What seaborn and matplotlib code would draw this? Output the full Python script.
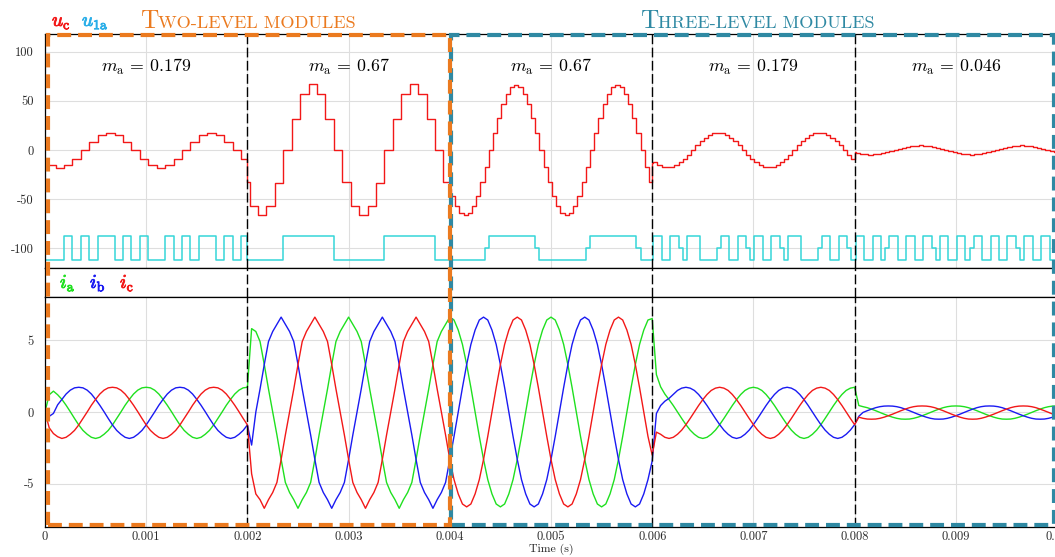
import numpy as np
import pandas as pd
import matplotlib
matplotlib.use("Agg")
import matplotlib.pyplot as plt
import matplotlib.patheffects as pe
from matplotlib.patches import Rectangle
import seaborn as sns

# ---- data ------------------------------------------------------------------
seg_edges = [0.0, 0.002, 0.004, 0.006, 0.008, 0.010]      # s
ma_labels = ["0.179", "0.67", "0.67", "0.179", "0.046"]
steps_per_ms = [12, 12, 24, 24, 24]                        # staircase update rate
title_two = "Two-level modules"
title_three = "Three-level modules"

# u_c staircase levels per segment (first and last step are partial)
uc_seg1 = [-15.6, -15.6, -18, -15.6, -9, 0, 8.4, 15, 17.6, 15, 8.4, 0, -9,
           -15.6, -18, -15.6, -9, 0, 8.4, 15, 17.6, 15, 8.4, 0, -9]
uc_seg2 = [-32.5, -57, -66, -57, -34, 0, 32, 57, 67, 57, 32, 0, -32.5,
           -57, -66, -57, -34, 0, 32, 57, 67, 57, 32, 0, -32.5]
uc_seg3 = [-40, -47, -57, -64, -66, -64, -57, -47, -33, -17, 0, 17, 33, 47, 57, 64,
           66, 64, 57, 47, 33, 17, 0, -17, -33, -47, -57, -64, -66, -64, -57, -47,
           -33, -17, 0, 17, 33, 47, 57, 64, 66, 64, 57, 47, 33, 17, 0, -17, -33]
uc_seg4 = [-12.8, -12.4, -15.2, -17, -17.6, -17, -15.2, -12.4, -8.8, -4.6, 0, 4.6,
           8.8, 12.4, 15.2, 17, 17.6, 17, 15.2, 12.4, 8.8, 4.6, 0, -4.6, -8.8,
           -12.4, -15.2, -17, -17.6, -17, -15.2, -12.4, -8.8, -4.6, 0, 4.6, 8.8,
           12.4, 15.2, 17, 17.6, 17, 15.2, 12.4, 8.8, 4.6, 0, -4.6, -8.8]
uc_seg5 = [-2.3, -3.3, -4.0, -4.4, -4.6, -4.4, -4.0, -3.3, -2.3, -1.2, 0, 1.2,
           2.3, 3.3, 4.0, 4.4, 4.6, 4.4, 4.0, 3.3, 2.3, 1.2, 0, -1.2, -2.3,
           -3.3, -4.0, -4.4, -4.6, -4.4, -4.0, -3.3, -2.3, -1.2, 0, 1.2, 2.3,
           3.3, 4.0, 4.4, 4.6, 4.4, 4.0, 3.3, 2.3, 1.2, 0, -1.2, -2.3]

# u_1a switching state per step (-1 low, 0 middle, 1 high)
u1a_levels = {-1: -112, 0: -100, 1: -87}
u1a_seg1 = [-1, -1, -1, 1, -1, 1, -1, 1, 1, -1, 1, -1, 1, -1, -1, 1, -1, 1, -1,
            1, 1, -1, 1, -1, 1]
u1a_seg2 = [-1, -1, -1, -1, -1, 1, 1, 1, 1, 1, 1, -1, -1, -1, -1, -1, -1, 1, 1,
            1, 1, 1, 1, -1, -1]
u1a_seg3 = [-1, -1, -1, -1, -1, -1, -1, -1, -1, 0, 1, 1, 1, 1, 1, 1, 1, 1, 1, 1,
            1, 0, -1, -1, -1, -1, -1, -1, -1, -1, -1, -1, -1, 0, 1, 1, 1, 1, 1, 1,
            1, 1, 1, 1, 1, 0, -1, -1, -1]
u1a_seg4 = [-1, 1, 1, -1, -1, 1, 1, 0, -1, 1, 1, 1, -1, -1, -1, -1, 0, 1, 1, -1,
            -1, 1, 1, 0, -1, 1, 1, -1, -1, 1, 1, 0, -1, 1, 1, 1, -1, -1, -1, -1,
            0, 1, 1, -1, -1, 1, 1, 0, -1]
u1a_seg5 = [-1, 1, 1, -1, -1, 1, 1, -1, 0, 1, 1, -1, -1, 1, 1, -1, -1, 1, 1, 0,
            -1, 1, 1, -1, -1, 1, 1, -1, 0, 1, 1, -1, -1, 1, 1, -1, -1, 1, 1, 0,
            -1, 1, 1, -1, -1, 1, 1, -1, -1]

# phase currents (A), one sample every 1/24 ms, per segment
ia_seg1 = [0.0, 1.2, 1.45, 1.2, 0.88, 0.47, 0.02, -0.45, -0.9, -1.28, -1.55, -1.76,
           -1.84, -1.76, -1.55, -1.28, -0.9, -0.45, 0.0, 0.47, 0.88, 1.25, 1.52, 1.68,
           1.72, 1.68, 1.52, 1.25, 0.88, 0.47, 0.02, -0.45, -0.9, -1.28, -1.55, -1.76,
           -1.84, -1.76, -1.55, -1.28, -0.9, -0.45, 0.0, 0.47, 0.88, 1.25, 1.52, 1.68]
ib_seg1 = [0.0, -0.3, -0.1, 0.5, 0.88, 1.25, 1.52, 1.68, 1.72, 1.68, 1.52, 1.25,
           0.88, 0.47, 0.02, -0.45, -0.9, -1.28, -1.55, -1.76, -1.84, -1.76, -1.55, -1.28,
           -0.9, -0.45, 0.0, 0.47, 0.88, 1.25, 1.52, 1.68, 1.72, 1.68, 1.52, 1.25,
           0.88, 0.47, 0.02, -0.45, -0.9, -1.28, -1.55, -1.76, -1.84, -1.76, -1.55, -1.28]
ic_seg1 = [0.0, -1.1, -1.5, -1.72, -1.84, -1.76, -1.55, -1.28, -0.9, -0.45, 0.0, 0.47,
           0.88, 1.25, 1.52, 1.68, 1.72, 1.68, 1.52, 1.25, 0.88, 0.47, 0.02, -0.45,
           -0.9, -1.28, -1.55, -1.76, -1.84, -1.76, -1.55, -1.28, -0.9, -0.45, 0.0, 0.47,
           0.88, 1.25, 1.52, 1.68, 1.72, 1.68, 1.52, 1.25, 0.88, 0.47, 0.02, -0.45]
ia_seg2 = [1.72, 5.8, 5.6, 4.9, 3.3, 1.6, 0.0, -1.6, -3.3, -4.9, -5.6, -6.1,
           -6.7, -6.1, -5.6, -4.9, -3.3, -1.6, 0.0, 1.6, 3.3, 4.9, 5.6, 6.1,
           6.6, 6.1, 5.6, 4.9, 3.3, 1.6, 0.0, -1.6, -3.3, -4.9, -5.6, -6.1,
           -6.7, -6.1, -5.6, -4.9, -3.3, -1.6, 0.0, 1.6, 3.3, 4.9, 5.6, 6.1]
ib_seg2 = [-0.9, -2.3, 0.0, 1.6, 3.3, 4.9, 5.6, 6.1, 6.6, 6.1, 5.6, 4.9,
           3.3, 1.6, 0.0, -1.6, -3.3, -4.9, -5.6, -6.1, -6.7, -6.1, -5.6, -4.9,
           -3.3, -1.6, 0.0, 1.6, 3.3, 4.9, 5.6, 6.1, 6.6, 6.1, 5.6, 4.9,
           3.3, 1.6, 0.0, -1.6, -3.3, -4.9, -5.6, -6.1, -6.7, -6.1, -5.6, -4.9]
ic_seg2 = [-0.9, -4.3, -5.7, -6.1, -6.7, -6.1, -5.6, -4.9, -3.3, -1.6, 0.0, 1.6,
           3.3, 4.9, 5.6, 6.1, 6.6, 6.1, 5.6, 4.9, 3.3, 1.6, 0.0, -1.6,
           -3.3, -4.9, -5.6, -6.1, -6.7, -6.1, -5.6, -4.9, -3.3, -1.6, 0.0, 1.6,
           3.3, 4.9, 5.6, 6.1, 6.6, 6.1, 5.6, 4.9, 3.3, 1.6, 0.0, -1.6]
ia_seg3 = [6.6, 6.4, 5.7, 4.7, 3.3, 1.7, 0.0, -1.7, -3.3, -4.7, -5.7, -6.4,
           -6.6, -6.4, -5.7, -4.7, -3.3, -1.7, 0.0, 1.7, 3.3, 4.7, 5.7, 6.4,
           6.6, 6.4, 5.7, 4.7, 3.3, 1.7, 0.0, -1.7, -3.3, -4.7, -5.7, -6.4,
           -6.6, -6.4, -5.7, -4.7, -3.3, -1.7, 0.0, 1.7, 3.3, 4.7, 5.7, 6.4]
ib_seg3 = [-3.3, -1.7, 0.0, 1.7, 3.3, 4.7, 5.7, 6.4, 6.6, 6.4, 5.7, 4.7,
           3.3, 1.7, 0.0, -1.7, -3.3, -4.7, -5.7, -6.4, -6.6, -6.4, -5.7, -4.7,
           -3.3, -1.7, 0.0, 1.7, 3.3, 4.7, 5.7, 6.4, 6.6, 6.4, 5.7, 4.7,
           3.3, 1.7, 0.0, -1.7, -3.3, -4.7, -5.7, -6.4, -6.6, -6.4, -5.7, -4.7]
ic_seg3 = [-3.3, -4.7, -5.7, -6.4, -6.6, -6.4, -5.7, -4.7, -3.3, -1.7, 0.0, 1.7,
           3.3, 4.7, 5.7, 6.4, 6.6, 6.4, 5.7, 4.7, 3.3, 1.7, 0.0, -1.7,
           -3.3, -4.7, -5.7, -6.4, -6.6, -6.4, -5.7, -4.7, -3.3, -1.7, 0.0, 1.7,
           3.3, 4.7, 5.7, 6.4, 6.6, 6.4, 5.7, 4.7, 3.3, 1.7, 0.0, -1.7]
ia_seg4 = [6.5, 2.6, 1.75, 1.25, 0.86, 0.45, 0.0, -0.45, -0.88, -1.26, -1.55, -1.76,
           -1.84, -1.76, -1.55, -1.26, -0.88, -0.45, 0.0, 0.45, 0.86, 1.22, 1.5, 1.66,
           1.72, 1.66, 1.5, 1.22, 0.86, 0.45, 0.0, -0.45, -0.88, -1.26, -1.55, -1.76,
           -1.84, -1.76, -1.55, -1.26, -0.88, -0.45, 0.0, 0.45, 0.86, 1.22, 1.5, 1.66]
ib_seg4 = [-3.4, -0.1, 0.45, 0.75, 0.95, 1.22, 1.5, 1.66, 1.72, 1.66, 1.5, 1.22,
           0.86, 0.45, 0.0, -0.45, -0.88, -1.26, -1.55, -1.76, -1.84, -1.76, -1.55, -1.26,
           -0.88, -0.45, 0.0, 0.45, 0.86, 1.22, 1.5, 1.66, 1.72, 1.66, 1.5, 1.22,
           0.86, 0.45, 0.0, -0.45, -0.88, -1.26, -1.55, -1.76, -1.84, -1.76, -1.55, -1.26]
ic_seg4 = [-3.0, -1.4, -1.55, -1.76, -1.84, -1.76, -1.55, -1.26, -0.88, -0.45, 0.0, 0.45,
           0.86, 1.22, 1.5, 1.66, 1.72, 1.66, 1.5, 1.22, 0.86, 0.45, 0.0, -0.45,
           -0.88, -1.26, -1.55, -1.76, -1.84, -1.76, -1.55, -1.26, -0.88, -0.45, 0.0, 0.45,
           0.86, 1.22, 1.5, 1.66, 1.72, 1.66, 1.5, 1.22, 0.86, 0.45, 0.0, -0.45]
ia_seg5 = [1.72, 0.45, 0.37, 0.3, 0.2, 0.09, -0.03, -0.15, -0.26, -0.36, -0.44, -0.49,
           -0.5, -0.49, -0.44, -0.36, -0.26, -0.15, -0.03, 0.09, 0.2, 0.3, 0.37, 0.41,
           0.42, 0.41, 0.37, 0.3, 0.2, 0.09, -0.03, -0.15, -0.26, -0.36, -0.44, -0.49,
           -0.5, -0.49, -0.44, -0.36, -0.26, -0.15, -0.03, 0.09, 0.2, 0.3, 0.37, 0.41]
ib_seg5 = [-0.88, -0.3, -0.03, 0.09, 0.2, 0.3, 0.37, 0.41, 0.42, 0.41, 0.37, 0.3,
           0.2, 0.09, -0.03, -0.15, -0.26, -0.36, -0.44, -0.49, -0.5, -0.49, -0.44, -0.36,
           -0.26, -0.15, -0.03, 0.09, 0.2, 0.3, 0.37, 0.41, 0.42, 0.41, 0.37, 0.3,
           0.2, 0.09, -0.03, -0.15, -0.26, -0.36, -0.44, -0.49, -0.5, -0.49, -0.44, -0.36]
ic_seg5 = [-0.88, -0.36, -0.44, -0.49, -0.5, -0.49, -0.44, -0.36, -0.26, -0.15, -0.03, 0.09,
           0.2, 0.3, 0.37, 0.41, 0.42, 0.41, 0.37, 0.3, 0.2, 0.09, -0.03, -0.15,
           -0.26, -0.36, -0.44, -0.49, -0.5, -0.49, -0.44, -0.36, -0.26, -0.15, -0.03, 0.09,
           0.2, 0.3, 0.37, 0.41, 0.42, 0.41, 0.37, 0.3, 0.2, 0.09, -0.03, -0.15]
current_end = {"ia": 0.42, "ib": -0.26, "ic": -0.26}        # value at t = 0.01 s

colors = {"uc": "#F21818", "u1a": "#35D6D8", "u1a_label": "#2AAEE8",
          "ia": "#1FE01F", "ib": "#1A1AF2", "ic": "#F21818",
          "two": "#EB7A1F", "three": "#2F89A3"}


# ---- build frames -----------------------------------------------------------
def step_frame(segments, offset=0.75):
    ts, vs = [], []
    for k, vals in enumerate(segments):
        dt = 1e-3 / steps_per_ms[k]
        starts = seg_edges[k] + (np.arange(len(vals)) - offset) * dt
        starts[0] = seg_edges[k]
        ts.extend(starts)
        vs.extend(vals)
    ts.append(seg_edges[-1])
    vs.append(vs[-1])
    return pd.DataFrame({"t": ts, "v": vs})


uc_df = step_frame([uc_seg1, uc_seg2, uc_seg3, uc_seg4, uc_seg5])
u1a_df = step_frame([u1a_seg1, u1a_seg2, u1a_seg3, u1a_seg4, u1a_seg5])
u1a_df["v"] = u1a_df["v"].map(u1a_levels)

phase_data = {
    "ia": [ia_seg1, ia_seg2, ia_seg3, ia_seg4, ia_seg5],
    "ib": [ib_seg1, ib_seg2, ib_seg3, ib_seg4, ib_seg5],
    "ic": [ic_seg1, ic_seg2, ic_seg3, ic_seg4, ic_seg5],
}
rows = []
for ph, segs in phase_data.items():
    for k, vals in enumerate(segs):
        t = seg_edges[k] + np.arange(len(vals)) * 1e-3 / 24
        rows.append(pd.DataFrame({"t": t, "i": vals, "phase": ph}))
    rows.append(pd.DataFrame({"t": [seg_edges[-1]], "i": [current_end[ph]], "phase": [ph]}))
cur_df = pd.concat(rows, ignore_index=True)

# ---- figure -------------------------------------------------------------------
sns.set_theme(style="whitegrid")
plt.rcParams["font.family"] = ["cmr10", "DejaVu Serif"]
plt.rcParams["mathtext.fontset"] = "cm"
plt.rcParams["axes.unicode_minus"] = False
plt.rcParams["lines.scale_dashes"] = False

W, H = 1055, 557
fig = plt.figure(figsize=(W / 100, H / 100), dpi=100)
left, width = 45 / W, 1012 / W
ax_top = fig.add_axes([left, (H - 268) / H, width, 234 / H])
ax_mid = fig.add_axes([left, (H - 297) / H, width, 29 / H])
ax_bot = fig.add_axes([left, (H - 527) / H, width, 230 / H])

sns.lineplot(data=uc_df, x="t", y="v", ax=ax_top, drawstyle="steps-post",
             estimator=None, sort=False, color=colors["uc"], lw=1.0)
sns.lineplot(data=u1a_df, x="t", y="v", ax=ax_top, drawstyle="steps-post",
             estimator=None, sort=False, color=colors["u1a"], lw=1.1)
sns.lineplot(data=cur_df, x="t", y="i", hue="phase", ax=ax_bot, estimator=None,
             sort=False, palette={p: colors[p] for p in phase_data}, lw=1.0,
             legend=False)

grid_kw = dict(color="#DEDEDE", lw=0.8)
xticks = np.arange(0, 0.0101, 0.001)
for ax in (ax_top, ax_mid, ax_bot):
    ax.set_xlim(seg_edges[0], seg_edges[-1])
    ax.set_xticks(xticks)
    ax.set_xlabel("")
    ax.set_ylabel("")
    ax.grid(True, **grid_kw)
    for s in ax.spines.values():
        s.set_color("black")
        s.set_linewidth(0.9)
    ax.tick_params(length=0, labelsize=9, colors="#2A2A2A", pad=8)
    for t in seg_edges[1:-1]:
        if t != seg_edges[2]:
            ax.axvline(t, color="black", lw=1.0, ls=(0, (7, 2.5)), zorder=4)

ax_top.set_ylim(-120, 118)
ax_top.set_yticks([-100, -50, 0, 50, 100])
ax_top.tick_params(labelbottom=False)
ax_mid.set_ylim(0, 1)
ax_mid.grid(False)
ax_mid.set_yticks([])
ax_mid.tick_params(labelbottom=False)
ax_bot.set_ylim(-8, 8)
ax_bot.set_yticks([-5, 0, 5])
ax_bot.xaxis.set_major_formatter(plt.FuncFormatter(lambda v, p: f"{v:.3f}".rstrip("0").rstrip(".") if v else "0"))
ax_bot.tick_params(axis="x", pad=3)
fig.text((45 + 1012 / 2) / W, (H - 549) / H, "Time (s)", fontsize=8.5,
         ha="center", va="center", color="#222222")

# modulation index labels
for k, ma in enumerate(ma_labels):
    ax_top.text((seg_edges[k] + seg_edges[k + 1]) / 2, 84, rf"$m_\mathrm{{a}}$ = {ma}",
                ha="center", va="center", fontsize=12.8, color="black")


# series labels
def label(x, y, s, c, size):
    t = fig.text(x, y, s, color=c, fontsize=size, ha="left", va="baseline")
    t.set_path_effects([pe.withStroke(linewidth=0.6, foreground=c)])
    return t


label(52 / W, (H - 26) / H, r"$u_\mathrm{c}$", colors["uc"], 14)
label(82 / W, (H - 26) / H, r"$u_{1\mathrm{a}}$", colors["u1a_label"], 14)
label(60 / W, (H - 288) / H, r"$i_\mathrm{a}$", colors["ia"], 14)
label(90 / W, (H - 288) / H, r"$i_\mathrm{b}$", colors["ib"], 14)
label(120 / W, (H - 288) / H, r"$i_\mathrm{c}$", colors["ic"], 14)

# small-caps group titles
renderer = fig.canvas.get_renderer()


def small_caps(x, y, text, color):
    for part, size in ((text[0], 18.3), (text[1:].upper(), 13.1)):
        t = fig.text(x, y, part, fontsize=size, color=color, ha="left", va="baseline")
        bb = t.get_window_extent(renderer)
        x = fig.transFigure.inverted().transform((bb.x1, bb.y0))[0]


small_caps(140 / W, (H - 28) / H, title_two, colors["two"])
small_caps(640 / W, (H - 28) / H, title_three, colors["three"])


# dashed group frames spanning all panels
def frame(t0, t1, color, inset_px):
    x0 = ax_bot.transData.transform((t0, 0))[0] + inset_px
    x1 = ax_bot.transData.transform((t1, 0))[0]
    y0 = ax_bot.get_window_extent(renderer).y0 + 2.5
    y1 = ax_top.get_window_extent(renderer).y1 - 1
    inv = fig.transFigure.inverted()
    (fx0, fy0), (fx1, fy1) = inv.transform([(x0, y0), (x1, y1)])
    r = Rectangle((fx0, fy0), fx1 - fx0, fy1 - fy0, transform=fig.transFigure,
                  fill=False, ec=color, lw=3.0, ls=(0, (10, 5)), zorder=10,
                  clip_on=False, capstyle="butt")
    fig.add_artist(r)


frame(seg_edges[2], seg_edges[5] - 0.00003, colors["three"], 1)
frame(seg_edges[0], seg_edges[2], colors["two"], 2.5)

fig.savefig("out.png", dpi=100)
